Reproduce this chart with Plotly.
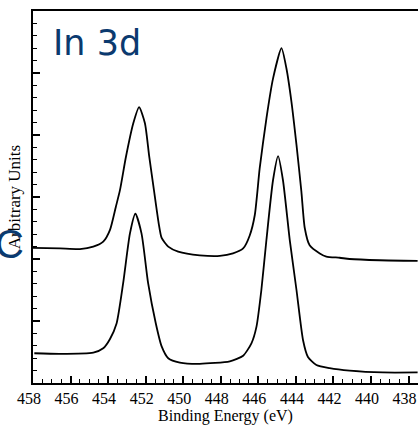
import plotly.graph_objects as go

# In 3d core-level spectra: binding energy (eV) and intensity (arbitrary units)
upper_energy = [458.00, 456.56, 455.50, 454.79, 454.26, 453.90, 453.59, 453.37, 453.05,
                452.66, 452.35, 452.04, 451.81, 451.56, 451.31, 451.15, 450.80, 450.27,
                449.12, 448.05, 447.35, 446.81, 446.46, 446.19, 445.93, 445.57, 445.22,
                444.77, 444.51, 444.24, 443.97, 443.71, 443.53, 443.27, 442.73, 442.38,
                441.67, 441.14, 439.54, 437.52]
upper_intensity = [2.18, 2.17, 2.16, 2.20, 2.28, 2.47, 2.84, 3.11, 3.65,
                   4.19, 4.45, 4.19, 3.65, 3.11, 2.58, 2.34, 2.20, 2.12,
                   2.06, 2.05, 2.09, 2.17, 2.38, 2.71, 3.46, 4.27, 4.91,
                   5.40, 5.08, 4.54, 3.84, 3.09, 2.50, 2.22, 2.09, 2.04,
                   2.02, 2.00, 1.98, 1.97]

lower_energy = [457.93, 456.56, 454.79, 454.26, 453.90, 453.55, 453.20, 452.84, 452.55,
                452.22, 451.87, 451.46, 451.15, 450.80, 450.18, 449.12, 447.52,
                446.81, 446.37, 446.10, 445.84, 445.57, 445.22, 444.95, 444.69, 444.33,
                443.97, 443.62, 443.36, 442.91, 442.20, 441.14, 439.37, 437.52]
lower_intensity = [0.48, 0.47, 0.49, 0.56, 0.71, 0.96, 1.61, 2.41, 2.73,
                   2.41, 1.61, 0.96, 0.59, 0.40, 0.33, 0.31, 0.35,
                   0.44, 0.64, 0.91, 1.50, 2.31, 3.27, 3.66, 3.27, 2.31,
                   1.50, 0.69, 0.42, 0.29, 0.24, 0.20, 0.17, 0.17]

x_ticks = [458, 456, 454, 452, 450, 448, 446, 444, 442, 440, 438]

BLUE = "#0b3a6f"
SERIF = "Liberation Serif, Times New Roman, serif"

fig = go.Figure()
for xs, ys in ((upper_energy, upper_intensity), (lower_energy, lower_intensity)):
    fig.add_trace(go.Scatter(x=xs, y=ys, mode="lines",
                             line=dict(color="black", width=1.8, shape="spline", smoothing=0.6),
                             showlegend=False, hoverinfo="skip"))

fig.update_layout(
    width=418, height=433,
    margin=dict(l=33, r=0, t=11, b=50),
    paper_bgcolor="white", plot_bgcolor="white",
    xaxis=dict(
        range=[458, 437.5], tickvals=x_ticks, ticklabeloverflow="allow",
        ticklabelshift=4,
        ticks="inside", ticklen=7, tickwidth=1.5, tickcolor="black",
        minor=dict(dtick=0.5, ticks="inside", ticklen=4, tickwidth=1.2, tickcolor="black"),
        showline=True, linecolor="black", linewidth=2, mirror=True,
        showgrid=False, zeroline=False,
        tickfont=dict(family=SERIF, size=16, color="black"),
        title=dict(text="Binding Energy (eV)", font=dict(family=SERIF, size=16, color="black"),
                   standoff=3),
    ),
    yaxis=dict(
        range=[0, 6], dtick=1,
        ticks="inside", ticklen=7, tickwidth=1.5, tickcolor="black",
        minor=dict(dtick=0.2, ticks="inside", ticklen=4, tickwidth=1.2, tickcolor="black"),
        showline=True, linecolor="black", linewidth=2, mirror=False,
        showgrid=False, zeroline=False, showticklabels=False,
        title=dict(text="Arbitrary Units", font=dict(family=SERIF, size=17, color="black"),
                   standoff=6),
    ),
    annotations=[
        dict(text="In 3d", xref="paper", yref="paper", x=0.048, y=0.915,
             xanchor="left", yanchor="middle", showarrow=False,
             font=dict(family="DejaVu Sans, sans-serif", size=35, color=BLUE)),
        dict(text="C", xref="paper", yref="paper", x=-0.105, y=0.375,
             xanchor="left", yanchor="middle", showarrow=False,
             font=dict(family="Liberation Sans, Arial, sans-serif", size=40, color=BLUE)),
    ],
)

fig.write_html("out.html")
